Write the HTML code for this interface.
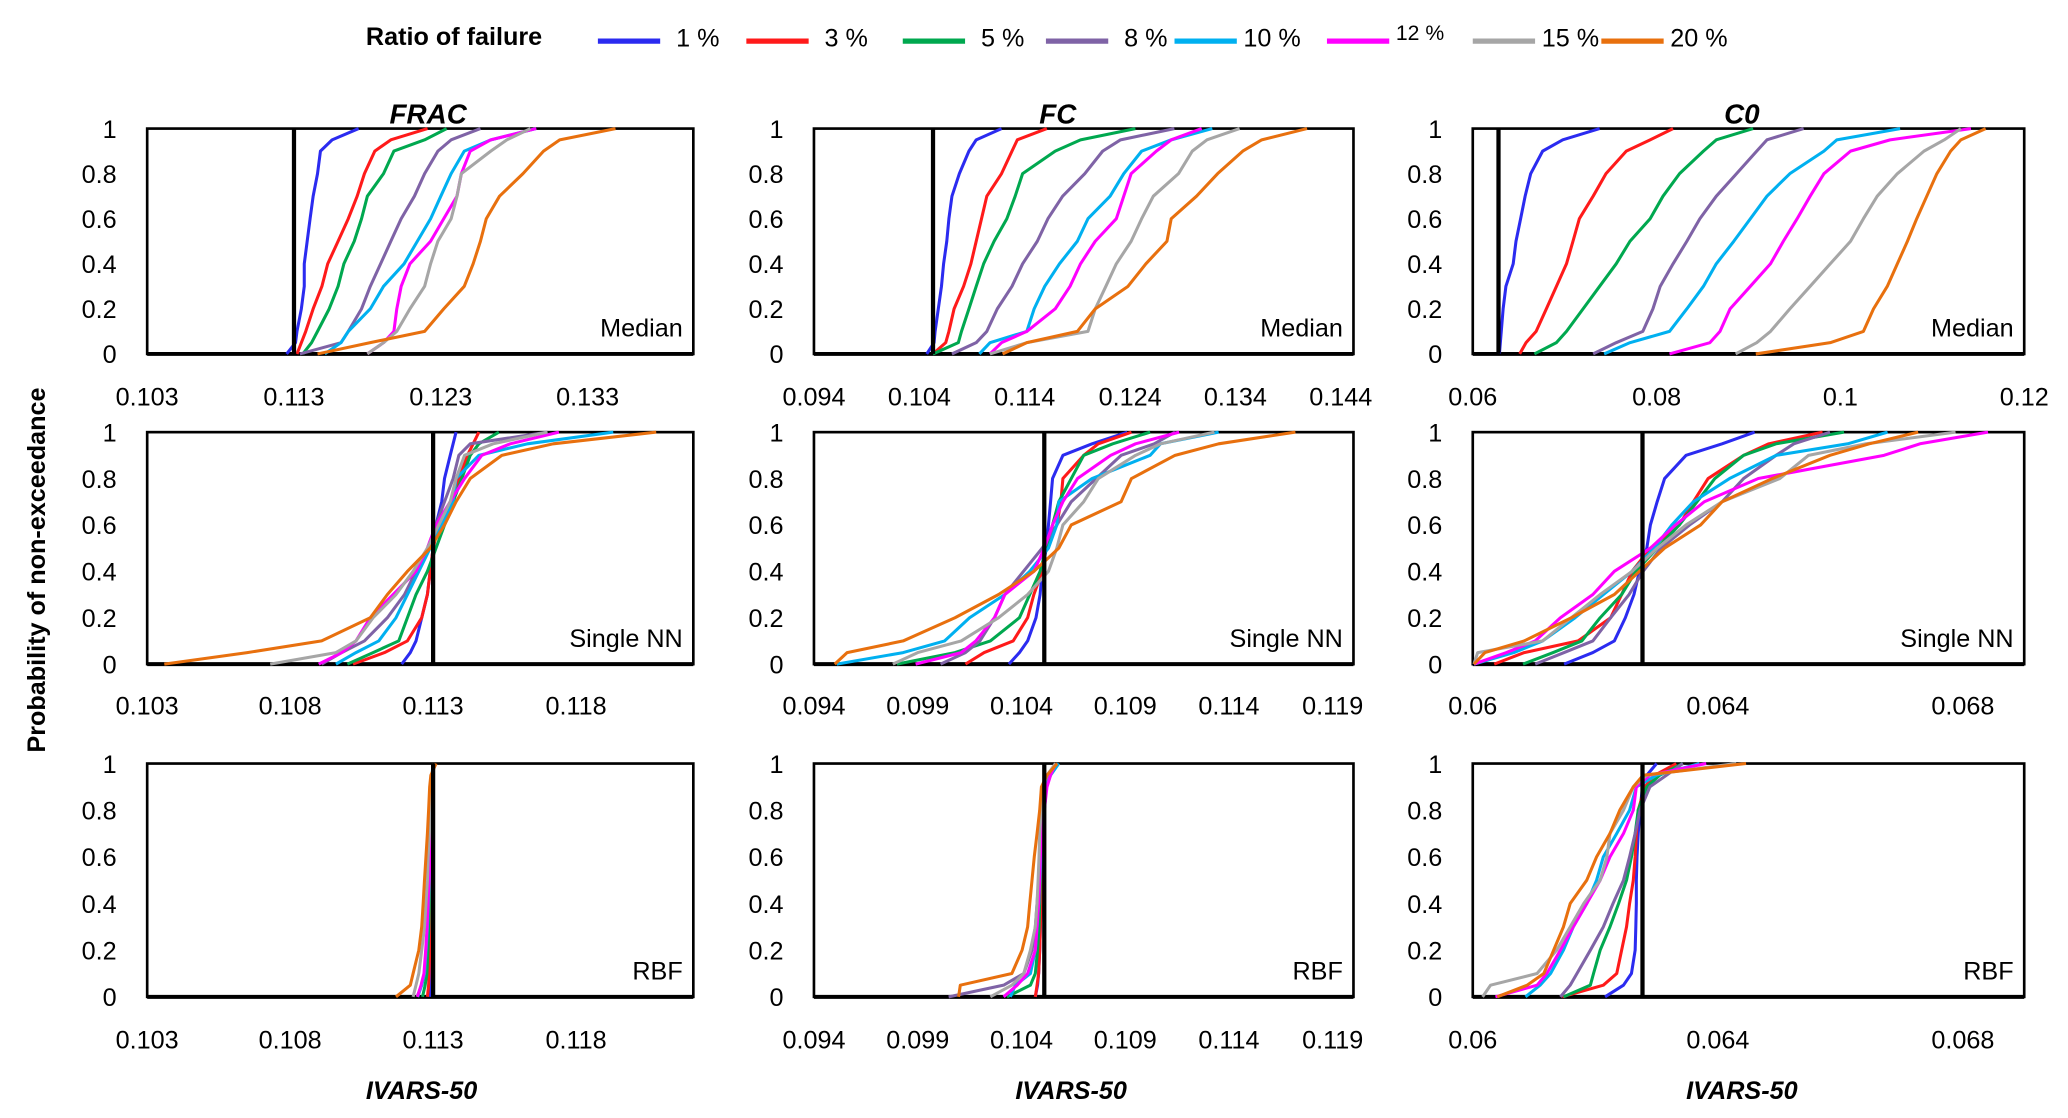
<!DOCTYPE html>
<html><head><meta charset="utf-8"><style>
html,body{margin:0;padding:0;background:#fff;}
svg{display:block;font-family:"Liberation Sans",Arial,sans-serif;}
</style></head><body>
<svg id="chart" width="2068" height="1118" viewBox="0 0 1560 843.4" xmlns="http://www.w3.org/2000/svg">
<rect x="0" y="0" width="1560" height="843.4" fill="#fff"/>
<g id="legend"></g>
<g id="panels"></g>
<text x="0" y="0" transform="translate(34,430) rotate(-90)" text-anchor="middle" font-size="19" font-weight="bold">Probability of non-exceedance</text>
</svg>
<script>
const NS="http://www.w3.org/2000/svg";
const probs=[0,0.05,0.1,0.2,0.3,0.4,0.5,0.6,0.7,0.8,0.9,0.95,1];
const seriesNames=["1 %","3 %","5 %","8 %","10 %","12 %","15 %","20 %"];
const seriesColors=["#2b2bf0","#ff1a1a","#00a84f","#7f63a6","#00b0f0","#ff00ff","#a6a6a6","#e8700e"];
const yTicks=[0,0.2,0.4,0.6,0.8,1];
const yTickLabels=["0","0.2","0.4","0.6","0.8","1"];
const colTitles=["FRAC","FC","C0"];
const rowLabels=["Median","Single NN","RBF"];
const refValues=[[0.113,0.1053,0.0628],[0.113,0.1051,0.06277],[0.113,0.1051,0.06277]];
const ticksR1C1=[0.103,0.113,0.123,0.133];
const ticksR1C2=[0.094,0.104,0.114,0.124,0.134,0.144];
const ticksR1C3=[0.06,0.08,0.1,0.12];
const ticksC1=[0.103,0.108,0.113,0.118];
const ticksC2=[0.094,0.099,0.104,0.109,0.114,0.119];
const ticksC3=[0.06,0.064,0.068];
const domainR1=[[0.103,0.1402],[0.094,0.1452],[0.06,0.12]];
const domainR23=[[0.103,0.1221],[0.094,0.1200],[0.06,0.0690]];

const fracMedian=[
[.1125,.1131,.1132,.1135,.1137,.1137,.1139,.1141,.1143,.1146,.1148,.1156,.1174],
[.1132,.1135,.1138,.1143,.1149,.1153,.1160,.1167,.1173,.1178,.1185,.1196,.1221],
[.1136,.1142,.1146,.1154,.1160,.1164,.1171,.1176,.1180,.1191,.1198,.1219,.1234],
[.1134,.1162,.1167,.1176,.1182,.1189,.1196,.1203,.1212,.1219,.1228,.1237,.1257],
[.1151,.1162,.1167,.1182,.1191,.1205,.1214,.1223,.1230,.1237,.1246,.1264,.1295],
[.1180,.1191,.1198,.1200,.1203,.1209,.1223,.1232,.1241,.1244,.1250,.1264,.1295],
[.1180,.1191,.1200,.1209,.1219,.1223,.1228,.1237,.1241,.1244,.1264,.1275,.1291],
[.1146,.1182,.1219,.1232,.1246,.1252,.1257,.1261,.1270,.1286,.1300,.1311,.1349]];
const fcMedian=[
[.1047,.1054,.1055,.1058,.1061,.1063,.1066,.1068,.1071,.1078,.1087,.1094,.1118],
[.1053,.1065,.1068,.1073,.1082,.1089,.1094,.1099,.1104,.1118,.1128,.1133,.1161],
[.1053,.1077,.1080,.1087,.1094,.1101,.1111,.1123,.1131,.1138,.1169,.1193,.1245],
[.1071,.1094,.1104,.1114,.1128,.1138,.1152,.1162,.1176,.1197,.1214,.1231,.1282],
[.1097,.1107,.1142,.1149,.1159,.1173,.1190,.1200,.1221,.1234,.1251,.1279,.1318],
[.1107,.1118,.1142,.1169,.1183,.1193,.1207,.1227,.1234,.1241,.1265,.1279,.1308],
[.1107,.1142,.1200,.1207,.1217,.1227,.1241,.1251,.1262,.1286,.1299,.1313,.1344],
[.1119,.1142,.1190,.1207,.1238,.1255,.1275,.1279,.1303,.1323,.1347,.1365,.1408]];
const c0Median=[
[.0629,.0630,.0631,.0633,.0636,.0644,.0647,.0652,.0657,.0663,.0676,.0698,.0738],
[.0651,.0658,.0669,.0680,.0691,.0702,.0709,.0716,.0731,.0745,.0767,.0793,.0818],
[.0667,.0691,.0702,.0720,.0738,.0756,.0771,.0793,.0807,.0825,.0851,.0865,.0905],
[.0731,.0756,.0785,.0796,.0804,.0818,.0833,.0847,.0865,.0887,.0909,.0920,.0960],
[.0743,.0771,.0814,.0833,.0851,.0865,.0884,.0902,.0920,.0945,.0982,.0996,.1065],
[.0814,.0858,.0869,.0880,.0902,.0924,.0938,.0953,.0967,.0982,.1011,.1054,.1142],
[.0886,.0909,.0924,.0945,.0967,.0989,.1011,.1025,.1040,.1062,.1091,.1113,.1131],
[.0908,.0989,.1025,.1036,.1051,.1062,.1073,.1083,.1094,.1105,.1120,.1131,.1158]];
const fracSingle=[
[.1119,.1122,.1124,.1126,.1128,.1129,.1130,.1131,.1133,.1134,.1136,.1137,.1138],
[.1102,.1113,.1121,.1126,.1128,.1129,.1130,.1132,.1136,.1139,.1142,.1144,.1146],
[.1100,.1109,.1118,.1121,.1124,.1128,.1131,.1134,.1137,.1140,.1143,.1146,.1153],
[.1091,.1098,.1106,.1114,.1120,.1124,.1128,.1131,.1134,.1137,.1139,.1143,.1170],
[.1096,.1103,.1111,.1117,.1121,.1125,.1129,.1133,.1137,.1138,.1146,.1163,.1193],
[.1090,.1098,.1103,.1108,.1116,.1124,.1128,.1131,.1136,.1141,.1147,.1157,.1174],
[.1073,.1096,.1103,.1109,.1117,.1123,.1128,.1132,.1136,.1138,.1141,.1151,.1170],
[.1036,.1065,.1091,.1108,.1114,.1121,.1129,.1134,.1138,.1143,.1154,.1172,.1208]];
const fcSingle=[
[.1034,.1039,.1043,.1047,.1049,.1050,.1052,.1053,.1054,.1055,.1060,.1074,.1091],
[.1013,.1022,.1036,.1043,.1046,.1050,.1051,.1057,.1059,.1060,.1070,.1077,.1093],
[.0980,.1008,.1025,.1039,.1044,.1049,.1052,.1055,.1058,.1064,.1070,.1084,.1102],
[.1001,.1013,.1020,.1027,.1032,.1041,.1050,.1057,.1064,.1076,.1088,.1104,.1114],
[.0951,.0983,.1003,.1015,.1032,.1044,.1053,.1057,.1058,.1074,.1102,.1107,.1135],
[.0989,.1011,.1018,.1027,.1032,.1046,.1051,.1055,.1060,.1067,.1083,.1095,.1116],
[.0978,.0990,.1011,.1029,.1043,.1053,.1057,.1060,.1070,.1077,.1095,.1107,.1133],
[.0950,.0956,.0983,.1008,.1029,.1046,.1058,.1064,.1088,.1093,.1114,.1135,.1172]];
const c0Single=[
[.06149,.06196,.06231,.06249,.06263,.06272,.06284,.06290,.06301,.06313,.06348,.06407,.06460],
[.06035,.06084,.06172,.06225,.06243,.06260,.06290,.06337,.06360,.06384,.06442,.06483,.06571],
[.06082,.06131,.06178,.06208,.06243,.06266,.06301,.06337,.06366,.06395,.06442,.06495,.06606],
[.06102,.06149,.06196,.06225,.06255,.06278,.06307,.06354,.06407,.06442,.06495,.06524,.06583],
[.06002,.06067,.06114,.06167,.06213,.06260,.06296,.06325,.06360,.06419,.06495,.06612,.06677],
[.06002,.06055,.06102,.06143,.06196,.06231,.06290,.06331,.06378,.06466,.06671,.06730,.06841],
[.06002,.06008,.06114,.06161,.06208,.06260,.06301,.06348,.06407,.06501,.06548,.06642,.06788],
[.06002,.06020,.06084,.06161,.06231,.06272,.06313,.06372,.06407,.06489,.06583,.06647,.06727]];
const fracRbf=[
[.11288,.1129,.11291,.11292,.11293,.11294,.11295,.11296,.11297,.11298,.11299,.113,.11302],
[.1128,.11284,.11286,.11288,.1129,.11291,.11293,.11294,.11295,.11296,.11298,.11299,.11302],
[.11263,.11272,.11278,.11282,.11285,.11287,.11289,.11291,.11293,.11295,.11297,.11298,.11302],
[.11244,.1126,.1127,.11276,.1128,.11284,.11287,.1129,.11292,.11294,.11296,.11298,.1130],
[.11246,.1126,.1127,.11275,.1128,.11283,.11286,.1129,.11292,.11294,.11296,.11298,.1130],
[.11245,.11258,.11268,.11274,.11279,.11282,.11286,.11289,.11292,.11294,.11296,.11298,.1130],
[.1123,.1124,.1125,.1126,.1127,.11275,.1128,.11283,.11287,.1129,.11293,.11296,.1130],
[.1117,.1122,.1123,.1125,.1126,.11265,.1127,.11275,.1128,.11284,.11288,.11292,.1131]];
const fcRbf=[
[.10467,.10478,.10483,.10488,.10491,.10495,.10498,.10501,.10504,.10510,.10517,.10532,.10564],
[.10467,.10475,.10483,.10488,.10491,.10495,.10496,.10499,.10504,.10510,.10520,.10532,.10564],
[.10330,.10443,.10467,.10478,.10485,.10488,.10491,.10496,.10501,.10507,.10515,.10532,.10564],
[.10049,.10314,.10411,.10451,.10467,.10475,.10483,.10488,.10491,.10499,.10507,.10532,.10564],
[.10346,.10371,.10443,.10467,.10475,.10483,.10488,.10495,.10501,.10510,.10520,.10540,.10580],
[.10314,.10379,.10430,.10467,.10475,.10483,.10488,.10491,.10499,.10510,.10523,.10540,.10564],
[.10250,.10354,.10411,.10443,.10467,.10475,.10480,.10485,.10488,.10495,.10504,.10523,.10564],
[.10097,.10105,.10354,.10403,.10430,.10440,.10451,.10462,.10475,.10488,.10496,.10523,.10572]];
const c0Rbf=[
[.06216,.06246,.06259,.06265,.06266,.06267,.06267,.06268,.06270,.06273,.06277,.06284,.06300],
[.06146,.06213,.06235,.06243,.06251,.06256,.06262,.06265,.06267,.06270,.06281,.06297,.06332],
[.06148,.06192,.06197,.06208,.06224,.06238,.06251,.06259,.06265,.06270,.06284,.06305,.06343],
[.06143,.06159,.06170,.06192,.06213,.06229,.06246,.06256,.06265,.06273,.06289,.06316,.06343],
[.06086,.06110,.06127,.06148,.06164,.06186,.06202,.06213,.06235,.06256,.06267,.06300,.06370],
[.06037,.06105,.06121,.06143,.06164,.06186,.06208,.06224,.06246,.06262,.06267,.06289,.06381],
[.06016,.06029,.06105,.06137,.06159,.06181,.06208,.06219,.06224,.06246,.06262,.06284,.06430],
[.06040,.06089,.06116,.06132,.06148,.06159,.06186,.06202,.06224,.06240,.06262,.06278,.06446]];

const panelData=[[fracMedian,fcMedian,c0Median],[fracSingle,fcSingle,c0Single],[fracRbf,fcRbf,c0Rbf]];
const panelTicks=[[ticksR1C1,ticksR1C2,ticksR1C3],[ticksC1,ticksC2,ticksC3],[ticksC1,ticksC2,ticksC3]];

const colX=[[111,523],[614,1021],[1111,1527]];
const rowY=[[97,267],[326,501],[576,752]];
const tickLabelY=[306,539,791];

function mk(tag,attrs,parent){const e=document.createElementNS(NS,tag);for(const k in attrs)e.setAttribute(k,attrs[k]);parent.appendChild(e);return e;}
function fmt(v){return String(+v.toFixed(4));}

const panels=document.getElementById('panels');
for(let r=0;r<3;r++){
  for(let c=0;c<3;c++){
    const dom=r===0?domainR1[c]:domainR23[c];
    const [x0,x1]=colX[c],[y0,y1]=rowY[r];
    const xs=v=>x0+(v-dom[0])/(dom[1]-dom[0])*(x1-x0);
    const ys=p=>y1-p*(y1-y0);
    const g=mk('g',{},panels);
    
    
    const fr=mk('rect',{x:x0,y:y0,width:x1-x0,height:y1-y0,fill:'none',stroke:'#000','stroke-width':2},g);
    
    
    const bl=mk('line',{x1:x0,x2:x1,y1:y1,y2:y1,stroke:'#000','stroke-width':3},g);
    
    
    // series
    panelData[r][c].forEach((s,i)=>{
      const pts=s.map((v,k)=>xs(v).toFixed(1)+','+ys(probs[k]).toFixed(1)).join(' ');
      const pl=mk('polyline',{points:pts,fill:'none',stroke:seriesColors[i],'stroke-width':2.3,'stroke-linejoin':'round'},g);
      
      
    });
    // reference line
    const rx=xs(refValues[r][c]);
    const rl=mk('line',{x1:rx,x2:rx,y1:y0,y2:y1,stroke:'#000','stroke-width':3.2},g);
    
    
    // y ticks
    yTicks.forEach((p,k)=>{
      const t=mk('text',{x:x0-23,y:ys(p)+7,'text-anchor':'end','font-size':19},g);
      t.textContent=yTickLabels[k];
      
      
    });
    // x ticks
    panelTicks[r][c].forEach(v=>{
      const t=mk('text',{x:xs(v),y:tickLabelY[r],'text-anchor':'middle','font-size':19},g);
      t.textContent=fmt(v);
      
      
    });
    // panel label
    const lab=mk('text',{x:x1-8,y:y1-13,'text-anchor':'end','font-size':19},g);
    lab.textContent=rowLabels[r];
    
    
    if(r===0){
      const tt=mk('text',{x:[323,798,1314][c],y:93,'text-anchor':'middle','font-size':21,'font-weight':'bold','font-style':'italic'},g);
      tt.textContent=colTitles[c];
      
      
    }
    if(r===2){
      const xt=mk('text',{x:[318,808,1314][c],y:829,'text-anchor':'middle','font-size':19,'font-weight':'bold','font-style':'italic'},g);
      xt.textContent='IVARS-50';
      
      
    }
  }
}
// legend
const lg=document.getElementById('legend');
const lt=mk('text',{x:276,y:34,'font-size':19,'font-weight':'bold'},lg);
lt.textContent='Ratio of failure';


const legX=[451,563,681,789,886,1001,1111,1208];
seriesNames.forEach((n,i)=>{
  const e=mk('g',{},lg);
  
  
  mk('line',{x1:legX[i],x2:legX[i]+47,y1:31,y2:31,stroke:seriesColors[i],'stroke-width':4},e);
  const t=mk('text',{x:legX[i]+(i>=4?52:59),y:i===5?30:35,'font-size':i===5?16:19},e);
  t.textContent=n;
});
</script>
</body></html>
